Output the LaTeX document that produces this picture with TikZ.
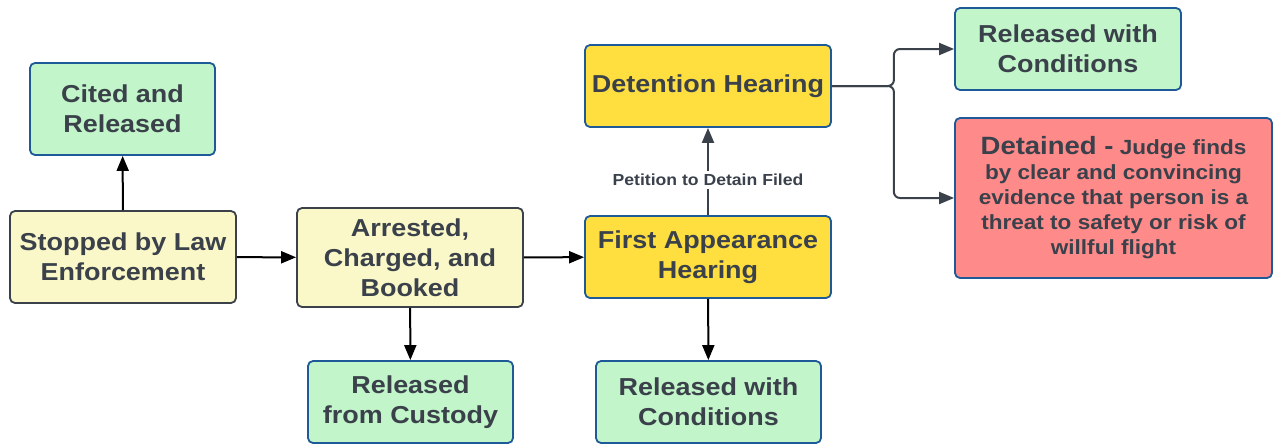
\documentclass[tikz,border=0pt]{standalone}
\usepackage{fontspec}
\setmainfont{Liberation Sans}[FakeStretch=1.1]
\usetikzlibrary{arrows.meta}
\definecolor{text color}{HTML}{3A414A}
\definecolor{box border}{HTML}{1E5A98}
\definecolor{released fill}{HTML}{C2F5C9}
\definecolor{stage fill}{HTML}{FAF8C8}
\definecolor{hearing fill}{HTML}{FFDF40}
\definecolor{detained fill}{HTML}{FF8A8A}
\tikzset{
    x={1pt},
    y={-1pt},
    box/.style={
        draw={#1},
        rectangle, rounded corners={5pt},
        line width={1.8pt},
        align=center,
        font={\fontsize{24.5}{30}\selectfont\bfseries},
        text=text color,
        inner sep=0pt,
    },
    released/.style 2 args={
        box=box border,
        fill=released fill,
        minimum width={#1},
        minimum height={#2},
    },
    stage/.style 2 args={
        box=text color,
        fill=stage fill,
        minimum width={#1},
        minimum height={#2},
    },
    hearing/.style={
        box=box border,
        fill=hearing fill,
        minimum width={246},
        minimum height={82},
    },
    detained/.style={
        box=box border,
        fill=detained fill,
        font={\fontsize{20.5}{25}\selectfont\bfseries},
        minimum width={317},
        minimum height={160},
    },
    flow/.style={
        draw={#1},
        line width={2pt},
        -{Triangle[length=15pt,width=12pt]},
    },
    flow/.default={black},
    flow label/.style={
        fill=white,
        font={\fontsize{16}{18}\selectfont\bfseries},
        text=text color,
        inner xsep=2pt, inner ysep=3pt,
    },
}

\begin{document}
\begin{tikzpicture}
\useasboundingbox (0,0) rectangle (1273,445);
% boxes
\node[released={185}{92}] (cited) at (122.5,109) {Cited and\\Released};
\node[stage={226}{92}] (stopped) at (123,257) {Stopped by Law\\Enforcement};
\node[stage={226}{99}] (arrested) at (410,257.5) {Arrested,\\Charged, and\\Booked};
\node[hearing] (first) at (708,257) {First Appearance\\Hearing};
\node[hearing] (detention) at (708,86) {Detention Hearing};
\node[released={226}{82}] (release top) at (1068,49) {Released with\\Conditions};
\node[detained] (detained) at (1113.5,198) {{\fontsize{25}{25}\selectfont Detained -} Judge finds\\by clear and convincing\\evidence that person is a\\threat to safety or risk of\\willful flight};
\node[released={205}{82}] (custody) at (410.5,402) {Released\\from Custody};
\node[released={225}{82}] (release bottom) at (708.5,402) {Released with\\Conditions};
% arrows
\path[flow] (stopped) -- (cited);
\path[flow] (stopped) -- (arrested);
\path[flow] (arrested) -- (first);
\path[flow] (arrested) -- (custody);
\path[flow] (first) -- (release bottom);
\path[flow={text color}] (first) -- node[flow label, pos=0.4] {Petition to Detain Filed} (detention);
\path[flow={text color}, rounded corners={6pt}] (detention.east) -- ++(62,0) |- (release top.west);
\path[flow={text color}, rounded corners={6pt}] (detention.east) -- ++(62,0) |- (detained.west);
\end{tikzpicture}
\end{document}
